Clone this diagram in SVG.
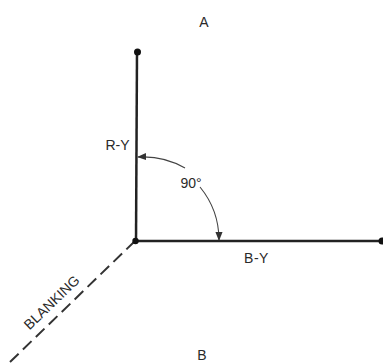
<svg xmlns="http://www.w3.org/2000/svg" width="383" height="364" viewBox="0 0 383 364">
<style>
.t{font-family:"Liberation Sans",Arial,sans-serif;font-size:14px;fill:#2a2a2a}
.axis{stroke:#222;stroke-width:2.5;fill:none}
.arc{stroke:#444;stroke-width:1.1;fill:none}
</style>
<defs>
<marker id="ah" viewBox="0 0 10 10" refX="9" refY="5" markerWidth="9" markerHeight="9" markerUnits="userSpaceOnUse" orient="auto">
<path d="M0,1 L10,5 L0,9 Z" fill="#333"/>
</marker>
</defs>
<rect width="383" height="364" fill="#fff"/>
<g id="connectors">
<line class="axis" x1="137" y1="52" x2="136" y2="241"/>
<line class="axis" x1="135" y1="241" x2="382" y2="241"/>
<line x1="135" y1="241" x2="10" y2="362" stroke="#333" stroke-width="2" stroke-dasharray="12,6"/>
<path class="arc" d="M185,168 A84,84 0 0 0 138,157" marker-end="url(#ah)"/>
<path class="arc" d="M200,187 A84,84 0 0 1 219,240" marker-end="url(#ah)"/>
</g>
<g id="dot-top"><circle cx="137.5" cy="52" r="3.5" fill="#111"/></g>
<g id="dot-origin"><circle cx="135.5" cy="241" r="3.2" fill="#111"/></g>
<g id="dot-right"><circle cx="382" cy="241" r="3.5" fill="#111"/></g>
<g id="label-A"><text class="t" x="204" y="27" text-anchor="middle">A</text></g>
<g id="label-B"><text class="t" x="202" y="360" text-anchor="middle">B</text></g>
<g id="label-RY"><text class="t" x="117.5" y="150" text-anchor="middle">R-Y</text></g>
<g id="label-BY"><text class="t" x="256.5" y="263" text-anchor="middle" letter-spacing="0.5">B-Y</text></g>
<g id="label-90"><text class="t" x="191" y="188" text-anchor="middle">90°</text></g>
<g id="label-blanking"><text class="t" font-size="11" transform="translate(55,306) rotate(-44)" text-anchor="middle">BLANKING</text></g>
</svg>
